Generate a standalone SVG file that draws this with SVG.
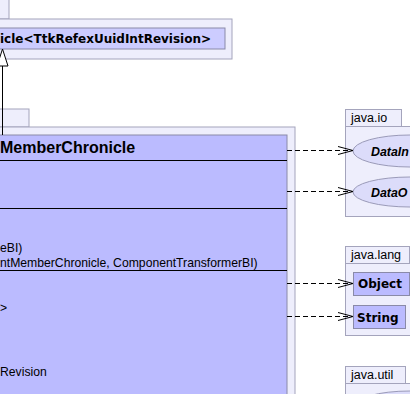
<svg xmlns="http://www.w3.org/2000/svg" width="410" height="394" viewBox="0 0 410 394">
  <style>
    .pkg { fill: #eeeefc; stroke: #a4a4bc; stroke-width: 1; }
    .cls { fill: #bbbbff; stroke: #8a8aa8; stroke-width: 1; }
    .cls2 { fill: #ccccff; stroke: #8a8aa8; stroke-width: 1; }
    .ext { fill: #dcdcfa; stroke: #9a9ab8; stroke-width: 1; }
    .sep { stroke: #000; stroke-width: 1; }
    .pname { font-family: "Liberation Sans", Arial, sans-serif; font-size: 12.5px; fill: #000; }
    .bold { font-family: "DejaVu Sans", sans-serif; font-weight: bold; font-size: 12px; fill: #000; }
    .title { font-family: "Liberation Sans", Arial, sans-serif; font-weight: bold; font-size: 16px; fill: #000; }
    .member { font-family: "Liberation Sans", Arial, sans-serif; font-size: 12.2px; fill: #000; }
    .ital { font-family: "Liberation Sans", Arial, sans-serif; font-weight: bold; font-style: italic; font-size: 12.4px; fill: #000; }
    .dep { fill: none; stroke: #000; stroke-width: 1; stroke-dasharray: 5,3; }
    .head { fill: none; stroke: #000; stroke-width: 1; }
  </style>

  <!-- superclass package -->
  <g id="pkg-super">
    <rect class="pkg" x="-20" y="-5" width="29" height="24"/>
    <rect class="pkg" x="-20" y="19" width="252" height="40"/>
  </g>
  <g id="node-super">
    <rect class="cls2" x="-20" y="28" width="245" height="21"/>
    <text class="bold" x="0" y="43">icle&lt;TtkRefexUuidIntRevision&gt;</text>
  </g>

  <!-- main package and class -->
  <g id="pkg-main">
    <rect class="pkg" x="-20" y="109" width="49" height="18"/>
    <rect class="pkg" x="-20" y="127" width="315" height="280"/>
  </g>
  <g id="node-main">
    <rect class="cls" x="-20" y="135" width="307" height="270"/>
    <text class="title" x="0" y="153">MemberChronicle</text>
    <line class="sep" x1="-20" y1="160.5" x2="287" y2="160.5"/>
    <line class="sep" x1="-20" y1="208.5" x2="287" y2="208.5"/>
    <text class="member" x="0" y="252">eBI)</text>
    <text class="member" x="0" y="267">ntMemberChronicle, ComponentTransformerBI)</text>
    <line class="sep" x1="-20" y1="270.5" x2="287" y2="270.5"/>
    <text class="member" x="0" y="312">&gt;</text>
    <text class="member" x="0" y="376">Revision</text>
  </g>

  <!-- java.io -->
  <g id="pkg-java-io">
    <rect class="pkg" x="345.5" y="109.5" width="56" height="17"/>
    <rect class="pkg" x="345.5" y="126.5" width="80" height="90"/>
    <text class="pname" x="351" y="122">java.io</text>
  </g>
  <g id="node-datainput">
    <ellipse class="ext" cx="410" cy="151" rx="57" ry="16"/>
    <text class="ital" x="371" y="155.5">DataIn</text>
  </g>
  <g id="node-dataoutput">
    <ellipse class="ext" cx="410" cy="192" rx="57" ry="15"/>
    <text class="ital" x="371" y="196.5">DataO</text>
  </g>

  <!-- java.lang -->
  <g id="pkg-java-lang">
    <rect class="pkg" x="345.5" y="246.5" width="64" height="17"/>
    <rect class="pkg" x="345.5" y="263.5" width="80" height="72"/>
    <text class="pname" x="351" y="259">java.lang</text>
  </g>
  <g id="node-object">
    <rect class="cls" x="353.5" y="272.5" width="56" height="23"/>
    <text class="bold" x="358" y="288">Object</text>
  </g>
  <g id="node-string">
    <rect class="cls" x="353.5" y="305.5" width="52" height="23"/>
    <text class="bold" x="357" y="322">String</text>
  </g>

  <!-- java.util -->
  <g id="pkg-java-util">
    <rect class="pkg" x="345.5" y="366.5" width="60" height="17"/>
    <rect class="pkg" x="345.5" y="383.5" width="80" height="30"/>
    <text class="pname" x="351" y="379">java.util</text>
  </g>
  <g id="node-util-ext">
    <ellipse class="ext" cx="410" cy="407" rx="57" ry="16"/>
  </g>

  <!-- connectors -->
  <g id="connectors">
    <line class="head" x1="2.5" y1="66" x2="2.5" y2="135"/>
    <polygon fill="#fff" stroke="#000" stroke-width="1" points="2.5,49 -3,66 8,66"/>

    <line class="dep" x1="287" y1="150.5" x2="352" y2="150.5"/>
    <polyline class="head" points="338,146.5 353,150.5 338,154.5"/>
    <line class="dep" x1="287" y1="191.5" x2="352" y2="191.5"/>
    <polyline class="head" points="338,187.5 353,191.5 338,195.5"/>
    <line class="dep" x1="287" y1="283.5" x2="352" y2="283.5"/>
    <polyline class="head" points="338,279.5 353,283.5 338,287.5"/>
    <line class="dep" x1="287" y1="316.5" x2="352" y2="316.5"/>
    <polyline class="head" points="338,312.5 353,316.5 338,320.5"/>
  </g>
</svg>
